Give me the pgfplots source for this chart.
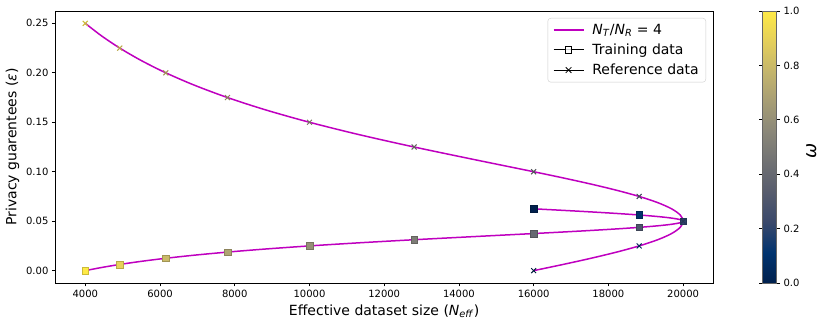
\documentclass[border=0pt]{standalone}
\usepackage{fontspec}
\setmainfont{DejaVu Sans}
\usepackage{pgfplots}
\usepackage{pgfplotstable}
\pgfplotsset{compat=1.18}

\definecolor{curvemag}{RGB}{191,0,191}

\pgfplotsset{
  colormap={cividis}{
    rgb255=(0,32,77) rgb255=(0,51,111) rgb255=(57,72,107) rgb255=(87,92,109)
    rgb255=(112,113,115) rgb255=(138,135,121) rgb255=(166,157,117)
    rgb255=(196,181,108) rgb255=(228,207,91) rgb255=(255,234,70)
  }
}

% curve: w, effective size, eps training, eps reference
\pgfplotstableread{
w     n        et         er
0.000 16000.0  0.0625     0.0
0.025 16786.9  0.0609375  0.00625
0.050 17534.2  0.059375   0.0125
0.075 18220.8  0.0578125  0.01875
0.100 18823.5  0.05625    0.025
0.125 19320.8  0.0546875  0.03125
0.150 19692.3  0.053125   0.0375
0.175 19922.2  0.0515625  0.04375
0.200 20000.0  0.05       0.05
0.225 19922.2  0.0484375  0.05625
0.250 19692.3  0.046875   0.0625
0.275 19320.8  0.0453125  0.06875
0.300 18823.5  0.04375    0.075
0.325 18220.8  0.0421875  0.08125
0.350 17534.2  0.040625   0.0875
0.375 16786.9  0.0390625  0.09375
0.400 16000.0  0.0375     0.1
0.450 14382.0  0.034375   0.1125
0.500 12800.0  0.03125    0.125
0.550 11327.4  0.028125   0.1375
0.600 10000.0  0.025      0.15
0.650 8827.6   0.021875   0.1625
0.700 7804.9   0.01875    0.175
0.750 6918.9   0.015625   0.1875
0.800 6153.8   0.0125     0.2
0.850 5493.6   0.009375   0.2125
0.900 4923.1   0.00625    0.225
0.950 4429.1   0.003125   0.2375
1.000 4000.0   0.0        0.25
}\curve

% markers every 0.1 in w
\pgfplotstableread{
w    n        et        er
0.0  16000.0  0.0625    0.0
0.1  18823.5  0.05625   0.025
0.2  20000.0  0.05      0.05
0.3  18823.5  0.04375   0.075
0.4  16000.0  0.0375    0.1
0.5  12800.0  0.03125   0.125
0.6  10000.0  0.025     0.15
0.7  7804.9   0.01875   0.175
0.8  6153.8   0.0125    0.2
0.9  4923.1   0.00625   0.225
1.0  4000.0   0.0       0.25
}\marks

\begin{document}
\begin{tikzpicture}
\useasboundingbox (0,0) rectangle (830pt,326pt);
\begin{axis}[
  at={(55.4pt,43pt)}, anchor=south west,
  scale only axis, width=657.6pt, height=272pt,
  xmin=3200, xmax=20800, ymin=-0.0125, ymax=0.2625,
  xtick={4000,6000,...,20000},
  ytick={0,0.05,...,0.25},
  scaled ticks=false,
  tick pos=left, tick align=outside, major tick length=3.5pt,
  axis line style={line width=0.8pt},
  every tick/.style={black, line width=0.8pt},
  xticklabel={\pgfmathprintnumber[assume math mode=true, fixed, precision=0,
    set thousands separator={}]{\tick}},
  yticklabel={\pgfmathprintnumber[assume math mode=true, fixed, fixed zerofill,
    precision=2]{\tick}},
  xticklabel style={font=\fontsize{10}{12}\selectfont},
  yticklabel style={font=\fontsize{10}{12}\selectfont},
  xlabel={Effective dataset size (\textit{N}\textsubscript{\textit{eff}})},
  ylabel={Privacy guarentees (\textit{ε})},
  label style={font=\fontsize{14}{16}\selectfont},
  colormap name=cividis,
  point meta min=0, point meta max=1,
  colorbar,
  colorbar style={
    at={(parent axis.north east)}, anchor=north west, xshift=41pt,
    scale only axis, width=14pt, height=272pt,
    ytick={0,0.2,...,1},
    tick align=outside, major tick length=3.5pt,
    yticklabel={\pgfmathprintnumber[assume math mode=true, fixed, fixed zerofill,
      precision=1]{\tick}},
    yticklabel style={font=\fontsize{10}{12}\selectfont},
    axis line style={line width=0.6pt, black!60},
    ylabel={\textit{ω}},
    ylabel style={font=\fontsize{18}{20}\selectfont, xshift=-4pt},
  },
  legend cell align=left,
  legend image code/.code={
    \draw[mark repeat=2, mark phase=2, #1]
      plot coordinates {(0pt,0pt) (15pt,0pt) (30pt,0pt)};
  },
  legend style={at={(1,1)}, anchor=north east, xshift=-7pt, yshift=-7pt,
    draw=black!20, rounded corners=3pt, fill=white, fill opacity=0.8,
    text opacity=1, font=\fontsize{14}{16}\selectfont,
    row sep=4pt, inner xsep=5pt, inner ysep=4pt,
    /tikz/every odd column/.append style={column sep=6pt}},
]
\addlegendimage{curvemag, line width=1.5pt}
\addlegendentry{\textit{N}\textsubscript{\textit{T}}/\textit{N}\textsubscript{\textit{R}} = 4}
\addlegendimage{black, line width=1pt, mark=square*, mark size=3.3pt,
  mark options={fill=white, line width=0.8pt}}
\addlegendentry{Training data}
\addlegendimage{black, line width=1pt, mark=x, mark size=4pt,
  mark options={line width=0.8pt}}
\addlegendentry{Reference data}

\addplot[scatter, only marks, scatter src=explicit, mark=square*,
  mark size=3.3pt, forget plot] table[x=n, y=et, meta=w] {\marks};
\addplot[scatter, only marks, scatter src=explicit, mark=x,
  mark size=3.5pt, line width=1pt, forget plot] table[x=n, y=er, meta=w] {\marks};

\addplot[curvemag, line width=1.5pt, smooth, forget plot] table[x=n, y=et] {\curve};
\addplot[curvemag, line width=1.5pt, smooth, forget plot] table[x=n, y=er] {\curve};
\end{axis}
\end{tikzpicture}
\end{document}
